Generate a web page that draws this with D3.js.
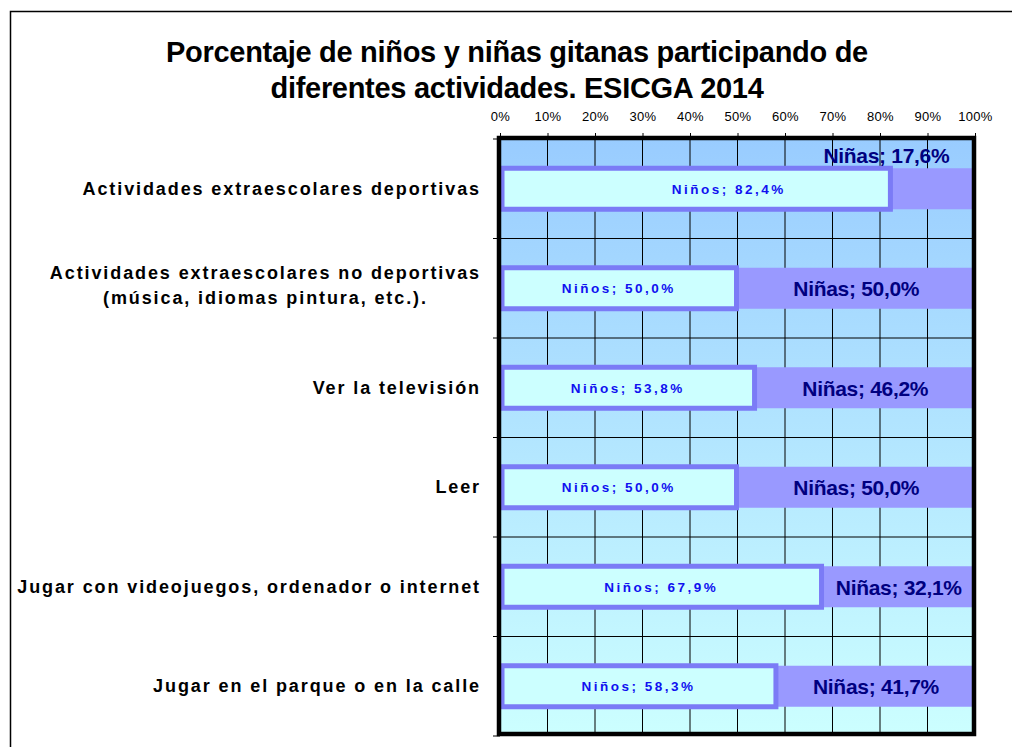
<!DOCTYPE html>
<html>
<head>
<meta charset="utf-8">
<script src="https://cdn.jsdelivr.net/npm/d3@7"></script>
<style>
  body { margin: 0; background: #fff; }
  svg { display: block; font-family: "Liberation Sans", Arial, sans-serif; }
</style>
</head>
<body>
<svg id="chart" width="1012" height="747"></svg>
<script>
// categories, top to bottom
const categories = [
    ["Actividades extraescolares deportivas"],
    ["Actividades extraescolares no deportivas", "(música, idiomas pintura, etc.)."],
    ["Ver la televisión"],
    ["Leer"],
    ["Jugar con videojuegos, ordenador o internet"],
    ["Jugar en el parque o en la calle"]
];
const ninos = [82.4, 50.0, 53.8, 50.0, 67.9, 58.3];
const ninas = [17.6, 50.0, 46.2, 50.0, 32.1, 41.7];
const ticks = [0, 10, 20, 30, 40, 50, 60, 70, 80, 90, 100];
const titleLines = ["Porcentaje de niños y niñas gitanas participando de", "diferentes actividades. ESICGA 2014"];

const fmt = v => v.toFixed(1).replace(".", ",");

const svg = d3.select("#chart");

// outer frame (runs off the page on the right and bottom)
svg.append("rect")
    .attr("x", 10.5).attr("y", 11.5)
    .attr("width", 1100).attr("height", 800)
    .attr("fill", "none").attr("stroke", "#000").attr("stroke-width", 1.5);

// title
svg.append("g").selectAll("text")
    .data(titleLines).join("text")
    .attr("x", 517)
    .attr("y", (d, i) => 62 + i * 36)
    .attr("text-anchor", "middle")
    .style("font-size", "29px")
    .style("font-weight", "bold")
    .style("letter-spacing", "-0.3px")
    .text(d => d);

const plotTop = 139, plotBottom = 736;
const x = d3.scaleLinear().domain([0, 100]).range([500, 975]);
const y = d3.scaleBand().domain(d3.range(categories.length)).range([plotTop, plotBottom]);

// background gradient
const grad = svg.append("defs").append("linearGradient")
    .attr("id", "bg").attr("x1", 0).attr("y1", 0).attr("x2", 0).attr("y2", 1);
grad.append("stop").attr("offset", "0%").attr("stop-color", "#99CCFF");
grad.append("stop").attr("offset", "100%").attr("stop-color", "#CCFFFF");

svg.append("rect")
    .attr("x", x(0)).attr("y", plotTop)
    .attr("width", x(100) - x(0)).attr("height", plotBottom - plotTop)
    .attr("fill", "url(#bg)");

// vertical grid
svg.append("g").selectAll("line")
    .data(ticks.slice(1, -1)).join("line")
    .attr("x1", d => x(d)).attr("x2", d => x(d))
    .attr("y1", plotTop).attr("y2", plotBottom)
    .attr("stroke", "#000").attr("stroke-width", 1);

// horizontal grid at category boundaries
svg.append("g").selectAll("line")
    .data(d3.range(1, categories.length)).join("line")
    .attr("x1", x(0)).attr("x2", x(100))
    .attr("y1", d => y(d)).attr("y2", d => y(d))
    .attr("stroke", "#000").attr("stroke-width", 1);

// top axis
const xAxis = d3.axisTop(x).tickValues(ticks).tickSize(5).tickFormat(d => d + "%");
const ax = svg.append("g").attr("transform", `translate(0,${plotTop - 1})`).call(xAxis);
ax.select(".domain").remove();
ax.selectAll("text")
    .attr("y", -17)
    .style("font-size", "13px")
    .style("letter-spacing", "0.3px")
    .style("font-family", "'Liberation Sans', Arial, sans-serif")
    .attr("fill", "#000");

// left ticks at category boundaries
svg.append("g").selectAll("line")
    .data(d3.range(0, categories.length + 1)).join("line")
    .attr("x1", x(0) - 7).attr("x2", x(0))
    .attr("y1", d => d < categories.length ? y(d) : plotBottom)
    .attr("y2", d => d < categories.length ? y(d) : plotBottom)
    .attr("stroke", "#000").attr("stroke-width", 1);

// bars
const barH = 41;
const rows = svg.append("g").selectAll("g")
    .data(categories.map((c, i) => ({c, i, a: ninos[i], b: ninas[i]})))
    .join("g")
    .attr("transform", d => `translate(0,${y(d.i) + (y.bandwidth() - barH) / 2})`);

rows.append("rect")
    .attr("x", d => x(d.a))
    .attr("width", d => x(d.a + d.b) - x(d.a) - 1)
    .attr("height", barH)
    .attr("fill", "#9999FF");

rows.append("rect")
    .attr("x", x(0) + 2)
    .attr("width", d => x(d.a) - x(0) - 3)
    .attr("height", barH)
    .attr("fill", "#CCFFFF")
    .attr("stroke", "#7B7BF6")
    .attr("stroke-width", 5);

// Niños labels
rows.append("text")
    .attr("x", d => d.i === 0 ? (x(0) + x(d.a)) / 2 + 33 : (x(0) + x(d.a)) / 2)
    .attr("y", barH / 2 + 5)
    .attr("text-anchor", "middle")
    .style("font-size", "13.5px")
    .style("font-weight", "bold")
    .style("letter-spacing", "2.5px")
    .attr("fill", "#1010F0")
    .text(d => "Niños; " + fmt(d.a) + "%");

// Niñas labels (first one sits above the bar)
rows.append("text")
    .attr("x", d => d.i === 0 ? x(d.a) - 5 : (x(d.a) + x(100)) / 2)
    .attr("y", d => d.i === 0 ? -5 : barH / 2 + 8)
    .attr("text-anchor", "middle")
    .style("font-size", "21px")
    .style("font-weight", "bold")
    .style("letter-spacing", "-0.3px")
    .attr("fill", "#000080")
    .text(d => "Niñas; " + fmt(d.b) + "%");

// plot border
svg.append("rect")
    .attr("x", x(0) - 1).attr("y", plotTop - 1)
    .attr("width", x(100) - x(0)).attr("height", plotBottom - plotTop - 1)
    .attr("fill", "none").attr("stroke", "#000").attr("stroke-width", 4.5);

// category labels, right aligned block, lines centred in block
const labelRight = 481;
const lab = svg.append("g")
    .style("font-size", "18px")
    .style("font-weight", "bold")
    .style("letter-spacing", "1.9px");
categories.forEach((lines, i) => {
    const cy = y(i) + y.bandwidth() / 2;
    const lh = 25;
    const texts = lines.map((t, j) => lab.append("text")
        .attr("y", cy - (lines.length - 1) * lh / 2 - (lines.length > 1 ? 3 : 0) + j * lh + 6)
        .text(t));
    const widths = texts.map(t => t.node().getComputedTextLength());
    const w = d3.max(widths);
    texts.forEach((t, j) => t.attr("x", labelRight - w / 2).attr("text-anchor", "middle"));
});
</script>
</body>
</html>
